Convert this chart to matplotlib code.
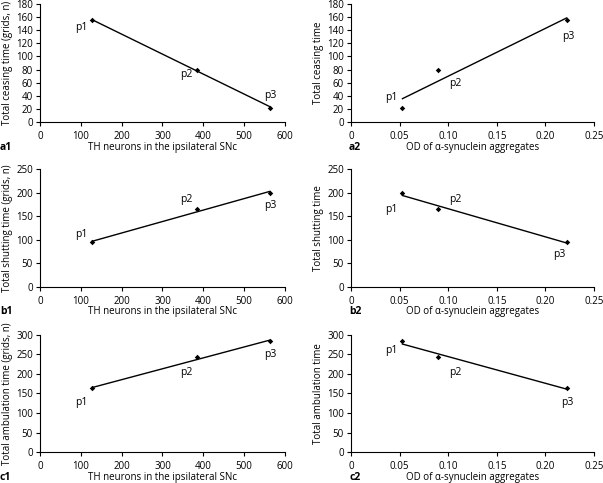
import numpy as np
import matplotlib
matplotlib.use("Agg")
import matplotlib.pyplot as plt

plt.rcParams['font.family'] = ['Open Sans', 'DejaVu Sans']
plt.rcParams['font.size'] = 7

# data
th_neurons = [128, 385, 563]
od_syn = [0.053, 0.090, 0.222]
point_names = ['p1', 'p2', 'p3']

ceasing_th = [155, 80, 22]
ceasing_od = [22, 80, 155]
shuttling_th = [95, 165, 200]
shuttling_od = [200, 165, 95]
ambulation_th = [163, 242, 283]
ambulation_od = [283, 242, 163]

th_label = 'TH neurons in the ipsilateral SNc'
od_label = 'OD of α-synuclein aggregates'

# label offsets in pixels (dx right, dy up)
panels = [
    # (panel, x, y, xlabel, ylabel, ymax, ystep, label offsets, axes rect)
    ('a1', th_neurons, ceasing_th, th_label, 'Total ceasing time (grids, n)', 180, 20,
     [(-11, -7), (-11, -5), (0, 12)], [0.0663, 0.7474, 0.4063, 0.2443]),
    ('a2', od_syn, ceasing_od, od_label, 'Total ceasing time', 180, 20,
     [(-11, 10), (17, -14), (2, -16)], [0.582, 0.7474, 0.403, 0.2443]),
    ('b1', th_neurons, shuttling_th, th_label, 'Total shutting time (grids, n)', 250, 50,
     [(-11, 8), (-11, 10), (0, -13)], [0.0663, 0.4058, 0.4063, 0.2437]),
    ('b2', od_syn, shuttling_od, od_label, 'Total shutting time', 250, 50,
     [(-11, -17), (17, 10), (-7, -12)], [0.582, 0.4058, 0.403, 0.2437]),
    ('c1', th_neurons, ambulation_th, th_label, 'Total ambulation time (grids, n)', 300, 50,
     [(-11, -14), (-11, -15), (0, -13)], [0.0663, 0.0636, 0.4063, 0.2435]),
    ('c2', od_syn, ambulation_od, od_label, 'Total ambulation time', 300, 50,
     [(-11, -9), (17, -15), (1, -14)], [0.582, 0.0636, 0.403, 0.2435]),
]

W, H = 603, 483
fig = plt.figure(figsize=(W / 100, H / 100), dpi=100)
px = 0.72  # points per pixel at 100 dpi

for name, x, y, xl, yl, ymax, ystep, offs, rect in panels:
    ax = fig.add_axes(rect)
    x = np.array(x)
    y = np.array(y)
    # least squares fit line over the range of the points
    k, b = np.polyfit(x, y, 1)
    xs = np.array([x.min(), x.max()])
    ax.plot(xs, k * xs + b, color='black', lw=1)
    ax.plot(x, y, 'D', color='black', ms=2.8, mew=0)
    for xi, yi, pn, (dx, dy) in zip(x, y, point_names, offs):
        ax.annotate(pn, (xi, yi), xytext=(dx * px, dy * px), textcoords='offset points',
                    ha='center', va='center', fontsize=7.5)

    if name.endswith('1'):
        ax.set_xlim(0, 600)
        ax.set_xticks(range(0, 601, 100))
    else:
        ax.set_xlim(0, 0.25)
        ax.set_xticks([0, 0.05, 0.10, 0.15, 0.20, 0.25])
        ax.set_xticklabels(['0', '0.05', '0.10', '0.15', '0.20', '0.25'])
    ax.set_ylim(0, ymax)
    ax.set_yticks(range(0, ymax + 1, ystep))

    for s in ['top', 'right']:
        ax.spines[s].set_visible(False)
    ax.spines['left'].set_linewidth(0.8)
    ax.spines['bottom'].set_linewidth(0.8)
    ax.tick_params(direction='out', length=3, width=0.8, labelsize=7)
    ax.tick_params(axis='x', pad=3.5)
    ax.tick_params(axis='y', pad=2)

    ax_h = rect[3] * H
    ax.set_xlabel(xl, fontsize=7, va='center')
    ax.xaxis.set_label_coords(0.5, -25 / ax_h)
    ax.set_ylabel(yl, fontsize=7, labelpad=2)

    # panel letter at lower left, level with the x label
    fx = 0.0 if name.endswith('1') else 349 / W
    fy = rect[1] - 25 / H
    fig.text(fx, fy, name, fontweight='bold', fontsize=7.5, va='center', ha='left')

fig.savefig('out.png', dpi=100)
